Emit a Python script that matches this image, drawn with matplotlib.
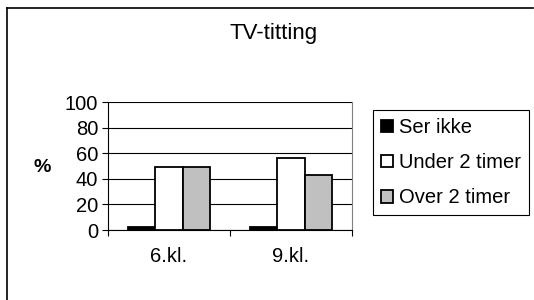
import matplotlib.pyplot as plt
from matplotlib.lines import Line2D

plt.rcParams['font.family'] = ['Liberation Sans', 'DejaVu Sans']

# data
classes = ['6.kl.', '9.kl.']
series = ['Ser ikke', 'Under 2 timer', 'Over 2 timer']
ser_ikke = [2, 2]
under_2 = [49, 56]
over_2 = [49, 43]
colors = ['black', 'white', '#c0c0c0']

fig = plt.figure(figsize=(5.34, 3.0), dpi=100)
ax = fig.add_axes([108 / 534, 1 - 230 / 300, 244 / 534, 128 / 300])

w = 0.225
for j, (vals, name) in enumerate(zip([ser_ikke, under_2, over_2], series)):
    xs = [i + (j - 1) * w for i in range(len(classes))]
    ax.bar(xs, vals, width=w, color=colors[j], edgecolor='black',
           linewidth=1.3, label=name, zorder=3)

ax.set_xlim(-0.5, 1.5)
ax.set_ylim(0, 100)
ax.set_yticks(range(0, 101, 20))
ax.yaxis.grid(True, color='black', linewidth=0.8, zorder=0)
ax.set_xticks(range(len(classes)))
ax.set_xticklabels(classes)
ax.set_xticks([-0.5, 0.5, 1.5], minor=True)
ax.tick_params(axis='x', which='major', length=0, pad=12, labelsize=14.5)
ax.tick_params(axis='x', which='minor', length=4, width=0.8, direction='out')
ax.tick_params(axis='y', length=4, width=0.8, labelsize=14.5, pad=3)
ax.spines['top'].set_visible(False)
ax.spines['right'].set_color('#808080')
ax.spines['left'].set_linewidth(0.8)
ax.spines['bottom'].set_linewidth(0.8)

fig.text(42 / 534, 1 - 167 / 300, '%', fontsize=14, fontweight='bold',
         ha='center', va='center')
fig.text(274 / 534, 1 - 33 / 300, 'TV-titting', fontsize=16,
         ha='center', va='center')

leg = fig.legend(loc='upper left', bbox_to_anchor=(373 / 534, 1 - 110 / 300),
                 bbox_transform=fig.transFigure, borderaxespad=0,
                 fancybox=False, edgecolor='black', framealpha=1,
                 fontsize=14.5, handlelength=0.6, handleheight=0.6,
                 handletextpad=0.3, labelspacing=0.8, borderpad=0.4)
leg.get_frame().set_linewidth(0.8)

# outer border (top and left edges visible)
fig.add_artist(Line2D([7 / 534, 7 / 534], [0, 1 - 8 / 300], color='black',
                      linewidth=1.2, transform=fig.transFigure))
fig.add_artist(Line2D([7 / 534, 533 / 534], [1 - 8 / 300, 1 - 8 / 300],
                      color='black', linewidth=1.2, transform=fig.transFigure))

fig.savefig('out.png', dpi=100)
